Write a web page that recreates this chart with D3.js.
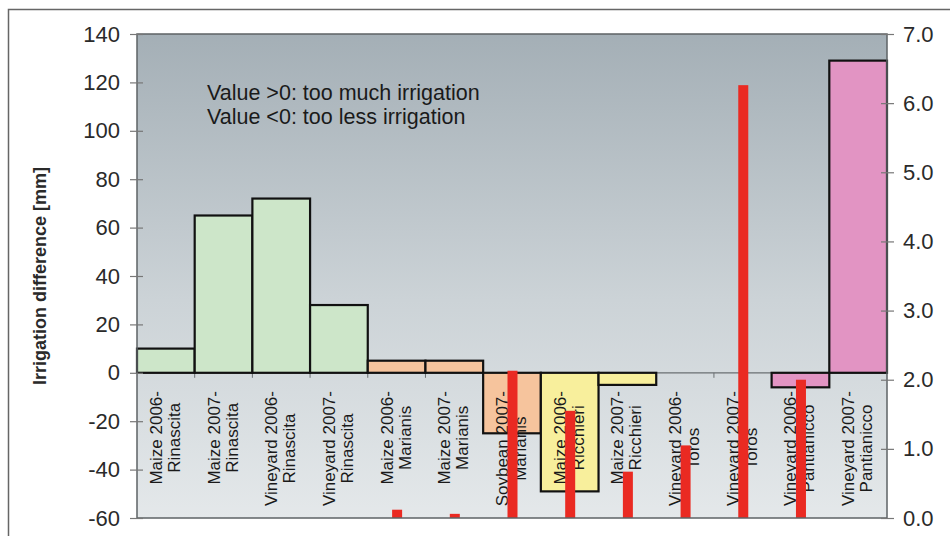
<!DOCTYPE html>
<html>
<head>
<meta charset="utf-8">
<script src="https://cdn.jsdelivr.net/npm/d3@7"></script>
<style>
  body { margin: 0; background: #fff; }
  svg { display: block; font-family: "Liberation Sans", Arial, Helvetica, sans-serif; }
</style>
</head>
<body>
<div id="chart"></div>
<script>
// categories, two label lines each
var crops = ["Maize 2006-", "Maize 2007-", "Vineyard 2006-", "Vineyard 2007-",
             "Maize 2006-", "Maize 2007-", "Soybean 2007-", "Maize 2006-", "Maize 2007-",
             "Vineyard 2006-", "Vineyard 2007-", "Vineyard 2006-", "Vineyard 2007-"];
var sites = ["Rinascita", "Rinascita", "Rinascita", "Rinascita",
             "Marianis", "Marianis", "Marianis", "Ricchieri", "Ricchieri",
             "Toros", "Toros", "Pantianicco", "Pantianicco"];
// irrigation difference [mm], left axis
var diffs = [10, 65, 72, 28, 5, 5, -25, -49, -5, 0, 0, -6, 129];
// second series (thin red bars), right axis
var redVals = [0, 0, 0, 0, 0.12, 0.06, 2.13, 1.55, 0.67, 1.05, 6.26, 2.0, 0];
// site colour for each box
var siteColors = {
  "Rinascita": "#cde6c9",
  "Marianis": "#f6c49d",
  "Ricchieri": "#f8ef9c",
  "Toros": "#f8ef9c",
  "Pantianicco": "#e294c3"
};
var leftTicks = [-60, -40, -20, 0, 20, 40, 60, 80, 100, 120, 140];
var rightTicks = [0, 1, 2, 3, 4, 5, 6, 7];
var notes = ["Value >0: too much irrigation", "Value <0: too less irrigation"];

var W = 950, H = 536;
var plot = {left: 137, right: 887, top: 34, bottom: 518};

var svg = d3.select("#chart").append("svg")
    .attr("width", W)
    .attr("height", H);

// outer frame (runs off the picture at right and bottom)
svg.append("rect")
    .attr("x", 8.5).attr("y", 9.5)
    .attr("width", 980).attr("height", 600)
    .style("fill", "none")
    .style("stroke", "#666")
    .style("stroke-width", 1.5);

var x = d3.scaleBand()
    .domain(d3.range(crops.length))
    .range([plot.left, plot.right])
    .padding(0);
var y = d3.scaleLinear().domain([-60, 140]).range([plot.bottom, plot.top]);
var y2 = d3.scaleLinear().domain([0, 7]).range([plot.bottom, plot.top]);

// background gradient
var grad = svg.append("defs").append("linearGradient")
    .attr("id", "bg").attr("x1", 0).attr("y1", 0).attr("x2", 0).attr("y2", 1);
grad.append("stop").attr("offset", "0%").attr("stop-color", "#a4afb6");
grad.append("stop").attr("offset", "55%").attr("stop-color", "#ccd3d7");
grad.append("stop").attr("offset", "100%").attr("stop-color", "#e4e8ea");

svg.append("rect")
    .attr("x", plot.left).attr("y", plot.top)
    .attr("width", plot.right - plot.left)
    .attr("height", plot.bottom - plot.top)
    .style("fill", "url(#bg)");

// zero line and category ticks
svg.append("line")
    .attr("x1", plot.left).attr("x2", plot.right)
    .attr("y1", y(0)).attr("y2", y(0))
    .style("stroke", "#6a6f72").style("stroke-width", 1.2);
svg.selectAll(".ctick").data(d3.range(1, crops.length))
  .enter().append("line")
    .attr("x1", function(d){ return x(d); })
    .attr("x2", function(d){ return x(d); })
    .attr("y1", y(0)).attr("y2", y(0) + 5)
    .style("stroke", "#6a6f72").style("stroke-width", 1);

// boxes
svg.selectAll(".box").data(diffs)
  .enter().append("rect")
    .attr("class", "box")
    .attr("x", function(d, i){ return x(i); })
    .attr("width", x.bandwidth())
    .attr("y", function(d){ return y(Math.max(0, d)); })
    .attr("height", function(d){ return Math.abs(y(d) - y(0)); })
    .style("fill", function(d, i){ return siteColors[sites[i]]; })
    .style("stroke", function(d){ return d === 0 ? "none" : "#111"; })
    .style("stroke-width", 2.2);

// category labels
var lab = svg.append("g").style("font-size", "17px").style("fill", "#1a1a1a");
crops.forEach(function(c, i){
  var cx = x(i) + x.bandwidth() / 2;
  var t1 = lab.append("text")
      .attr("transform", "translate(" + (cx - 4) + "," + 391 + ") rotate(-90)")
      .attr("text-anchor", "end")
      .text(c);
  var len = t1.node().getComputedTextLength();
  lab.append("text")
      .attr("transform", "translate(" + (cx + 14) + "," + (391 + len / 2) + ") rotate(-90)")
      .attr("text-anchor", "middle")
      .text(sites[i]);
});

// red bars
var rw = 10;
svg.selectAll(".red").data(redVals)
  .enter().append("rect")
    .attr("x", function(d, i){ return x(i) + x.bandwidth() / 2 - rw / 2 + 0.5; })
    .attr("width", rw)
    .attr("y", function(d){ return y2(d); })
    .attr("height", function(d){ return y2(0) - y2(d); })
    .style("fill", "#ea2a22");

// plot frame
svg.append("rect")
    .attr("x", plot.left).attr("y", plot.top)
    .attr("width", plot.right - plot.left)
    .attr("height", plot.bottom - plot.top)
    .style("fill", "none")
    .style("stroke", "#5e6366")
    .style("stroke-width", 1.5);

// axes
var axL = svg.append("g")
    .attr("transform", "translate(" + plot.left + ",0)")
    .call(d3.axisLeft(y).tickValues(leftTicks).tickSize(7).tickPadding(10)
      .tickFormat(function(d){ return String(d); }));
var axR = svg.append("g")
    .attr("transform", "translate(" + plot.right + ",0)")
    .call(d3.axisRight(y2).tickValues(rightTicks).tickSize(7).tickPadding(9)
      .tickFormat(function(d){ return d.toFixed(1); }));
[axL, axR].forEach(function(ax){
  ax.select(".domain").remove();
  ax.selectAll("text")
      .style("font-size", "22px")
      .style("fill", "#2a2a2a")
      .style("font-family", "\"Liberation Sans\", Arial, sans-serif");
  ax.selectAll("line").style("stroke", "#777").style("stroke-width", 1.2);
});
axL.selectAll(".tick line").attr("x2", -7).attr("x1", 6);
axR.selectAll(".tick line").attr("x2", 7).attr("x1", -6);

// y axis title
svg.append("text")
    .attr("transform", "translate(46," + ((plot.top + plot.bottom) / 2) + ") rotate(-90)")
    .attr("text-anchor", "middle")
    .style("font-size", "18px")
    .style("font-weight", "bold")
    .style("fill", "#2a2a2a")
    .text("Irrigation difference [mm]");

// note
svg.selectAll(".note").data(notes)
  .enter().append("text")
    .attr("x", 207)
    .attr("y", function(d, i){ return 100 + i * 24; })
    .style("font-size", "21.5px")
    .style("fill", "#1a1a1a")
    .text(function(d){ return d; });
</script>
</body>
</html>
